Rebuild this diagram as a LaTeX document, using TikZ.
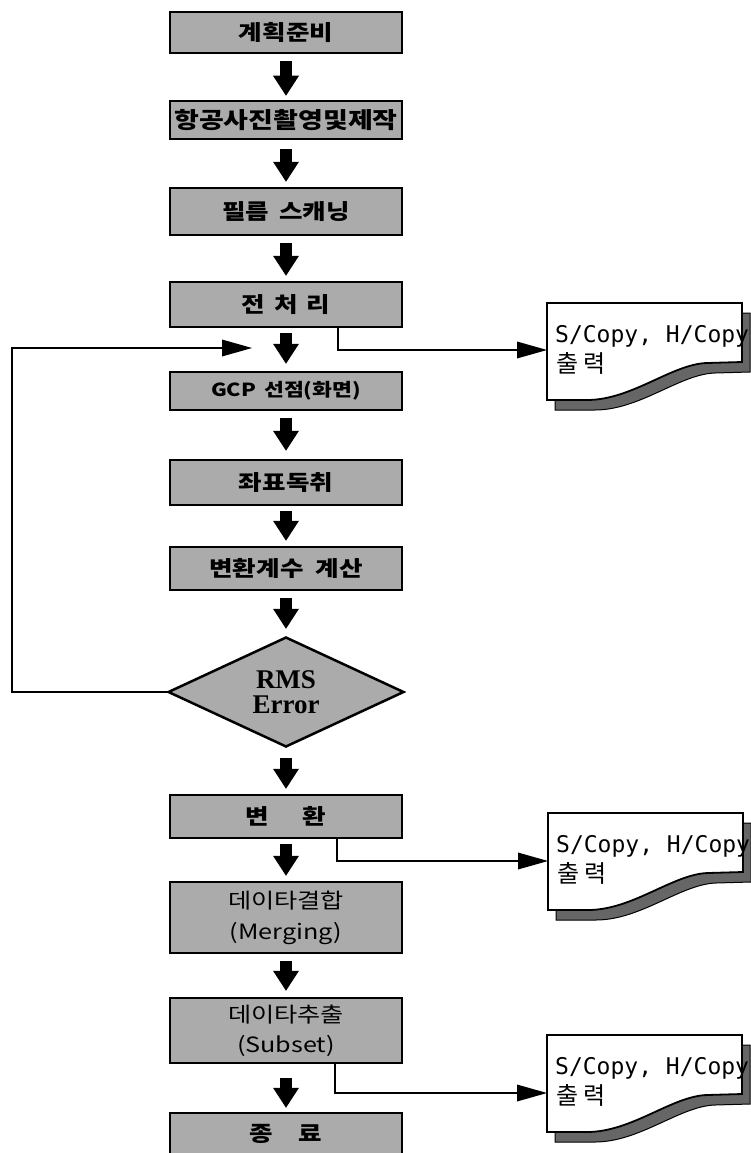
\documentclass[tikz,border=0pt]{standalone}
\usepackage{fontspec}
\usetikzlibrary{arrows.meta,shapes.geometric}
\newfontfamily\kr[FakeStretch=1.2]{Noto Sans CJK KR}
\newfontfamily\krplain{Noto Sans CJK KR}
\newfontfamily\rmsfont{Liberation Serif}
\newfontfamily\copyfont{DejaVu Sans Mono}

\tikzset{
  stepbox/.style={draw, line width=2.5pt, fill=black!33, minimum width=232pt,
    inner sep=0pt, align=center, font=\kr\bfseries\fontsize{21.3}{25}\selectfont},
  flow/.style={line width=12pt, -{Triangle[width=26pt,length=20pt,line width=0pt]}},
  linkarrow/.style={line width=1.8pt, -{Triangle[width=17pt,length=30pt,line width=0pt]}},
  decision/.style={diamond, draw, line width=2.5pt, fill=black!33, minimum width=236pt,
    minimum height=110pt, aspect=2, inner sep=0pt, align=center,
    font=\rmsfont\bfseries\fontsize{27}{25}\selectfont},
  docpaper/.style={draw, line width=1.8pt, fill=white},
  docshadow/.style={draw, line width=1pt, fill=black!60},
  doctext/.style={anchor=base west, inner sep=0pt, font=\copyfont\fontsize{23}{26}\selectfont},
  dockr/.style={anchor=base west, inner sep=0pt, font=\krplain\fontsize{24}{26}\selectfont},
}

% printed-output document symbol with a wavy lower edge and a drop shadow
\newcommand\outdoc[2]{%
  \begin{scope}[shift={(#1)}]
    \path[docshadow] (8,10) -- (203,10) -- (203,69) -- (168,70)
      .. controls (133,71) and (93,107) .. (48,107) -- (8,107) -- cycle;
    \path[docpaper] (0,0) -- (195,0) -- (195,59) -- (160,60)
      .. controls (125,61) and (85,97) .. (40,97) -- (0,97) -- cycle;
    \node[inner sep=0pt, minimum width=195pt, minimum height=97pt, anchor=north west] (#2) at (0,0) {};
    \node[doctext] (#2-en) at (8,39) {S/Copy, H/Copy};
    \node[dockr] (#2-kr) at (9,69) {출\hspace{5pt}력};
  \end{scope}}

\begin{document}
\begin{tikzpicture}[x=1pt,y=-1pt]
\useasboundingbox (0,0) rectangle (751,1153);
\clip (0,0) rectangle (751,1153);

% main processing steps
\node[stepbox, minimum height=41pt] (s1) at (286,32.5) {계획준비};
\node[stepbox, minimum height=38pt, font=\kr\bfseries\fontsize{22.5}{25}\selectfont] (s2) at (286,120) {항공사진촬영및제작};
\node[stepbox, minimum height=47pt] (s3) at (286,211.5) {필름\hspace{10pt}스캐닝};
\node[stepbox, minimum height=45pt] (s4) at (286,304.5) {전\hspace{9pt}처\hspace{9pt}리};
\node[stepbox, minimum height=38pt, font=\kr\bfseries\fontsize{18}{22}\selectfont] (s5) at (286,391) {GCP\hspace{8pt}선점(화면)};
\node[stepbox, minimum height=45pt] (s6) at (286,482.5) {좌표독취};
\node[stepbox, minimum height=43pt] (s7) at (286,568.5) {변환계수\hspace{12pt}계산};
\node[decision] (dec) at (286,692) {RMS\\Error};
\node[stepbox, minimum height=43pt] (s8) at (286,816.5) {변\hspace{34pt}환};
\node[stepbox, minimum height=71pt, font=\kr\fontsize{21}{31}\selectfont] (s9) at (286,917.5) {데이타결합\\(Merging)};
\node[stepbox, minimum height=65pt, font=\kr\fontsize{21}{30}\selectfont] (s10) at (286,1030.5) {데이타추출\\(Subset)};
\node[stepbox, minimum height=44pt] (s11) at (286,1135) {\raisebox{5pt}{종\hspace{25pt}료}};

% flow arrows
\draw[flow, shorten <=7pt, shorten >=4pt] (s1) -- (s2);
\draw[flow, shorten <=9pt, shorten >=5pt] (s2) -- (s3);
\draw[flow, shorten <=7pt, shorten >=5pt] (s3) -- (s4);
\draw[flow, shorten <=5pt, shorten >=7pt] (s4) -- (s5);
\draw[flow, shorten <=7pt, shorten >=8pt] (s5) -- (s6);
\draw[flow, shorten <=5pt, shorten >=5pt] (s6) -- (s7);
\draw[flow, shorten <=7pt, shorten >=7pt] (s7) -- (dec);
\draw[flow, shorten <=10pt, shorten >=5pt] (dec) -- (s8);
\draw[flow, shorten <=5pt, shorten >=5pt] (s8) -- (s9);
\draw[flow, shorten <=7pt, shorten >=6pt] (s9) -- (s10);
\draw[flow, shorten <=14pt, shorten >=4pt] (s10) -- (s11);

% output documents
\outdoc{547,303}{d1}
\outdoc{548,813}{d2}
\outdoc{547,1035}{d3}

% feedback loop and output links
\coordinate (ret) at (252,348);
\draw[linkarrow] (dec.west) -- ++(-155,0) |- (ret);
\coordinate (t1) at ([yshift=-47pt]d1.north west);
\draw[linkarrow] ([xshift=52pt]s4.south) |- (t1);
\coordinate (t2) at ([yshift=-48pt]d2.north west);
\draw[linkarrow] ([xshift=51pt]s8.south) |- (t2);
\coordinate (t3) at ([yshift=-58pt]d3.north west);
\draw[linkarrow] ([xshift=49pt]s10.south) |- (t3);
\end{tikzpicture}
\end{document}
